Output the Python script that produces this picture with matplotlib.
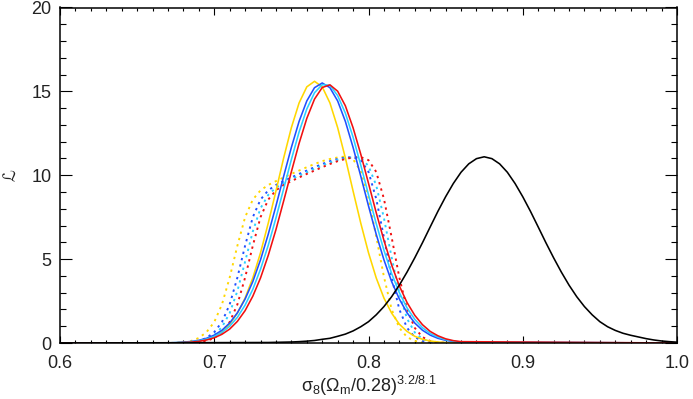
import matplotlib
matplotlib.use("Agg")
import matplotlib.pyplot as plt
from matplotlib.ticker import MultipleLocator

plt.rcParams.update({
    "font.family": "Liberation Sans",
    "mathtext.fontset": "custom",
    "mathtext.rm": "Liberation Sans",
    "mathtext.it": "Liberation Sans",
    "mathtext.bf": "Liberation Sans:bold",
})

# ---- data (likelihood vs sigma_8 (Omega_m/0.28)^(3.2/8.1))
x_grid = [0.600,
          0.670, 0.675, 0.680, 0.685, 0.690, 0.695, 0.700, 0.705, 0.710, 0.715,
          0.720, 0.725, 0.730, 0.735, 0.740, 0.745, 0.750, 0.755, 0.760, 0.765,
          0.770, 0.775, 0.780, 0.785, 0.790, 0.795, 0.800, 0.805, 0.810, 0.815,
          0.820, 0.825, 0.830, 0.835, 0.840, 0.845, 0.850, 0.855, 0.860,
          1.000]

# solid curves
yellow_solid = [0.0,
                0.01, 0.01, 0.03, 0.06, 0.12, 0.22, 0.40, 0.69, 1.12, 1.78,
                2.68, 3.88, 5.38, 7.14, 9.06, 11.03, 12.84, 14.31, 15.27, 15.60,
                15.27, 14.31, 12.84, 11.03, 9.06, 7.14, 5.38, 3.88, 2.68, 1.78,
                1.12, 0.69, 0.40, 0.22, 0.12, 0.06, 0.03, 0.01, 0.01,
                0.0]
blue_solid = [0.0,
              0.01, 0.02, 0.05, 0.09, 0.16, 0.28, 0.47, 0.76, 1.19, 1.80,
              2.62, 3.66, 4.96, 6.48, 8.17, 9.94, 11.66, 13.21, 14.43, 15.22,
              15.50, 15.22, 14.43, 13.21, 11.66, 9.94, 8.17, 6.48, 4.96, 3.66,
              2.62, 1.80, 1.19, 0.76, 0.47, 0.28, 0.16, 0.09, 0.05,
              0.0]
cyan_solid = [0.0,
              0.01, 0.02, 0.04, 0.07, 0.13, 0.23, 0.39, 0.63, 1.00, 1.53,
              2.26, 3.20, 4.40, 5.82, 7.45, 9.19, 10.94, 12.58, 13.95, 14.92,
              15.40, 15.36, 14.75, 13.70, 12.27, 10.60, 8.84, 7.12, 5.53, 4.14,
              3.00, 2.09, 1.41, 0.91, 0.57, 0.35, 0.20, 0.11, 0.06,
              0.0]
red_solid = [0.0,
             0.01, 0.01, 0.03, 0.05, 0.10, 0.18, 0.31, 0.52, 0.83, 1.29,
             1.93, 2.79, 3.88, 5.22, 6.76, 8.47, 10.21, 11.90, 13.39, 14.54,
             15.23, 15.39, 15.01, 14.14, 12.83, 11.25, 9.52, 7.77, 6.12, 4.65,
             3.40, 2.41, 1.65, 1.09, 0.69, 0.43, 0.25, 0.14, 0.08,
             0.0]

# dotted curves
yellow_dot = [0.0,
              0.00, 0.01, 0.04, 0.12, 0.30, 0.65, 1.25, 2.30, 3.90, 5.80,
              7.50, 8.55, 9.10, 9.42, 9.65, 9.87, 10.08, 10.28, 10.48, 10.67,
              10.84, 10.97, 11.06, 11.12, 10.95, 10.25, 8.65, 6.35, 3.95, 2.00,
              0.90, 0.35, 0.12, 0.04, 0.01, 0.00, 0.00, 0.00, 0.00,
              0.0]
blue_dot = [0.0,
            0.00, 0.00, 0.01, 0.04, 0.12, 0.30, 0.65, 1.25, 2.30, 3.90,
            5.80, 7.50, 8.55, 9.10, 9.42, 9.65, 9.87, 10.08, 10.28, 10.48,
            10.67, 10.84, 10.97, 11.06, 11.08, 10.90, 10.20, 8.60, 6.30, 3.90,
            2.00, 0.90, 0.35, 0.12, 0.04, 0.01, 0.00, 0.00, 0.00,
            0.0]
cyan_dot = [0.0,
            0.00, 0.00, 0.01, 0.03, 0.08, 0.21, 0.47, 0.95, 1.78, 3.10,
            4.85, 6.65, 8.03, 8.83, 9.26, 9.54, 9.76, 9.98, 10.18, 10.38,
            10.58, 10.76, 10.91, 11.02, 11.07, 11.05, 10.55, 9.40, 7.45, 5.10,
            2.95, 1.45, 0.63, 0.24, 0.08, 0.03, 0.01, 0.00, 0.00,
            0.0]
red_dot = [0.0,
           0.00, 0.00, 0.00, 0.01, 0.04, 0.12, 0.30, 0.65, 1.25, 2.30,
           3.90, 5.80, 7.50, 8.55, 9.10, 9.42, 9.65, 9.87, 10.08, 10.28,
           10.48, 10.67, 10.84, 10.97, 11.06, 11.08, 10.90, 10.20, 8.60, 6.30,
           3.90, 2.00, 0.90, 0.35, 0.12, 0.04, 0.01, 0.00, 0.00,
           0.0]

# black curve (own grid)
black_x = [0.600,
           0.735, 0.740, 0.745, 0.750, 0.755, 0.760, 0.765, 0.770, 0.775, 0.780,
           0.785, 0.790, 0.795, 0.800, 0.805, 0.810, 0.815, 0.820, 0.825, 0.830,
           0.835, 0.840, 0.845, 0.850, 0.855, 0.860, 0.865, 0.870, 0.875, 0.880,
           0.885, 0.890, 0.895, 0.900, 0.905, 0.910, 0.915, 0.920, 0.925, 0.930,
           0.935, 0.940, 0.945, 0.950, 0.955, 0.960, 0.965, 0.970, 0.975, 0.980,
           0.985, 0.990, 0.995, 1.000]
black_y = [0.00,
           0.03, 0.04, 0.05, 0.06, 0.08, 0.11, 0.15, 0.22, 0.28, 0.40,
           0.53, 0.72, 0.97, 1.27, 1.68, 2.17, 2.76, 3.45, 4.23, 5.08,
           5.98, 6.92, 7.85, 8.72, 9.51, 10.18, 10.68, 10.99, 11.10, 10.99,
           10.68, 10.18, 9.51, 8.72, 7.85, 6.92, 5.98, 5.08, 4.23, 3.45,
           2.76, 2.17, 1.68, 1.27, 0.97, 0.75, 0.58, 0.46, 0.36, 0.26,
           0.18, 0.12, 0.08, 0.05]

x_ticks = [0.6, 0.7, 0.8, 0.9, 1.0]
y_ticks = [0, 5, 10, 15, 20]

YELLOW, BLUE, CYAN, RED = "#FFD700", "#1F4FFF", "#2CD0FF", "#F01010"
LW = 1.15
DOT = (0, (1.2, 2.2))

fig = plt.figure(figsize=(6.93, 3.99), dpi=100)
ax = fig.add_axes([60 / 693, 56 / 399, 617 / 693, 335.5 / 399])

ax.plot(x_grid, yellow_dot, color=YELLOW, lw=LW * 1.2, ls=DOT)
ax.plot(x_grid, blue_dot, color=BLUE, lw=LW * 1.2, ls=DOT)
ax.plot(x_grid, cyan_dot, color=CYAN, lw=LW * 1.2, ls=DOT)
ax.plot(x_grid, red_dot, color=RED, lw=LW * 1.2, ls=DOT)

ax.plot(x_grid, yellow_solid, color=YELLOW, lw=LW)
ax.plot(x_grid, blue_solid, color=BLUE, lw=LW)
ax.plot(x_grid, cyan_solid, color=CYAN, lw=LW)
ax.plot(x_grid, red_solid, color=RED, lw=LW)

ax.plot(black_x, black_y, color="black", lw=LW)

ax.set_xlim(0.6, 1.0)
ax.set_ylim(0, 20)
ax.set_xticks(x_ticks)
ax.set_xticklabels([f"{v:.1f}" for v in x_ticks])
ax.set_yticks(y_ticks)
ax.xaxis.set_minor_locator(MultipleLocator(0.01))
ax.yaxis.set_minor_locator(MultipleLocator(1))

for s in ax.spines.values():
    s.set_linewidth(1.1)

ax.tick_params(which="both", direction="in", top=True, right=True,
               width=0.8, colors="black", labelcolor="#222222", labelsize=13)
ax.tick_params(axis="x", which="major", length=4.8, pad=9)
ax.tick_params(axis="x", which="minor", length=2.4)
ax.tick_params(axis="y", which="major", length=8.6, pad=6)
ax.tick_params(axis="y", which="minor", length=4.3)

ax.set_xlabel(r"σ$_8$(Ω$_m$/0.28)$^{3.2/8.1}$", fontsize=13, color="#222222",
              labelpad=1)
ax.set_ylabel("ℒ", family=["DejaVu Sans"], fontsize=12, color="#222222",
              labelpad=9)

fig.savefig("out.png", dpi=100)
